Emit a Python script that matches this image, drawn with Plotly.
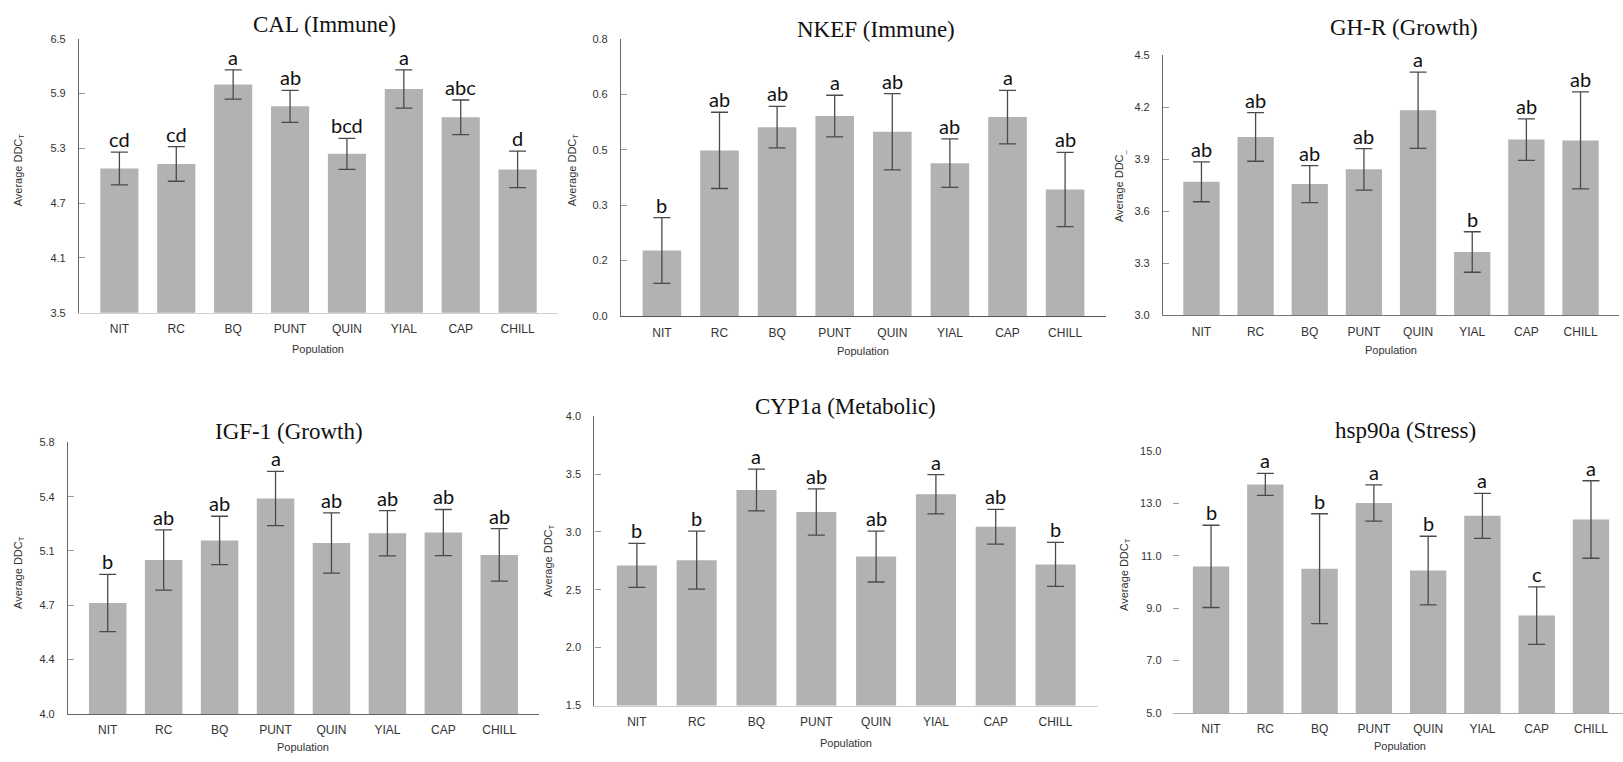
import plotly.graph_objects as go

W, H = 1623, 762

populations = ["NIT", "RC", "BQ", "PUNT", "QUIN", "YIAL", "CAP", "CHILL"]

# ---- data ----
cal_mean = [5.08, 5.13, 6.00, 5.76, 5.24, 5.95, 5.64, 5.07]
cal_err = [0.18, 0.19, 0.16, 0.175, 0.17, 0.21, 0.19, 0.20]
cal_letters = ["cd", "cd", "a", "ab", "bcd", "a", "abc", "d"]

nkef_mean = [0.189, 0.478, 0.545, 0.577, 0.532, 0.441, 0.574, 0.365]
nkef_err = [0.095, 0.11, 0.06, 0.06, 0.11, 0.07, 0.077, 0.107]
nkef_letters = ["b", "ab", "ab", "a", "ab", "ab", "a", "ab"]

ghr_mean = [3.769, 4.028, 3.756, 3.841, 4.182, 3.364, 4.013, 4.008]
ghr_err = [0.115, 0.14, 0.107, 0.12, 0.22, 0.117, 0.12, 0.28]
ghr_letters = ["ab", "ab", "ab", "ab", "a", "b", "ab", "ab"]

igf_mean = [4.735, 5.02, 5.15, 5.428, 5.133, 5.198, 5.202, 5.054]
igf_err = [0.19, 0.2, 0.16, 0.18, 0.2, 0.15, 0.153, 0.174]
igf_letters = ["b", "ab", "ab", "a", "ab", "ab", "ab", "ab"]

cyp_mean = [2.71, 2.756, 3.362, 3.172, 2.787, 3.325, 3.045, 2.719]
cyp_err = [0.19, 0.25, 0.18, 0.2, 0.22, 0.17, 0.15, 0.19]
cyp_letters = ["b", "b", "a", "ab", "ab", "a", "ab", "b"]

hsp_mean = [10.6, 13.73, 10.51, 13.02, 10.44, 12.53, 8.72, 12.39]
hsp_err = [1.57, 0.42, 2.1, 0.69, 1.31, 0.86, 1.1, 1.48]
hsp_letters = ["b", "a", "b", "a", "b", "a", "c", "a"]

titles = ["CAL (Immune)", "NKEF (Immune)", "GH-R (Growth)",
          "IGF-1 (Growth)", "CYP1a (Metabolic)", "hsp90a (Stress)"]
ytitles = ["Average DDC<sub>T</sub>", "Average DDC<sub>T</sub>", "Average DDC<sub>_</sub>",
           "Average DDC<sub>T</sub>", "Average DDC<sub>T</sub>", "Average DDC<sub>T</sub>"]
xtitle = "Population"

yticks_vals = [
    [3.5, 4.1, 4.7, 5.3, 5.9, 6.5],
    [0.0, 0.16, 0.32, 0.48, 0.64, 0.8],
    [3.0, 3.3, 3.6, 3.9, 4.2, 4.5],
    [4.0, 4.36, 4.72, 5.08, 5.44, 5.8],
    [1.5, 2.0, 2.5, 3.0, 3.5, 4.0],
    [5.0, 7.0, 9.0, 11.0, 13.0, 15.0],
]
yticks_text = [
    ["3.5", "4.1", "4.7", "5.3", "5.9", "6.5"],
    ["0.0", "0.2", "0.3", "0.5", "0.6", "0.8"],
    ["3.0", "3.3", "3.6", "3.9", "4.2", "4.5"],
    ["4.0", "4.4", "4.7", "5.1", "5.4", "5.8"],
    ["1.5", "2.0", "2.5", "3.0", "3.5", "4.0"],
    ["5.0", "7.0", "9.0", "11.0", "13.0", "15.0"],
]

panels_data = [
    (cal_mean, cal_err, cal_letters),
    (nkef_mean, nkef_err, nkef_letters),
    (ghr_mean, ghr_err, ghr_letters),
    (igf_mean, igf_err, igf_letters),
    (cyp_mean, cyp_err, cyp_letters),
    (hsp_mean, hsp_err, hsp_letters),
]

# ---- layout geometry (pixels) ----
# (x_left, x_right, y_top, y_bottom, xrange_max)
geom = [
    (79, 558, 33.3, 311.7, 7.71),
    (621, 1106, 33.3, 315, 7.71),
    (1163, 1619, 50, 314, 7.71),
    (68, 539, 443.3, 719.3, 7.71),
    (594.4, 1098, 416.7, 710.7, 7.71),
    (1172.5, 1623, 452.3, 718.3, 7.59),
]
title_pos = [(324, 19), (876, 24), (1404, 22), (289, 432), (845, 407), (1405, 431)]
ytitle_pos = [(19, 167), (573, 167), (1120, 183), (19, 576), (549, 564), (1125, 578)]
pop_pos = [(318, 348), (863, 351), (1391, 349), (303, 753), (846, 749), (1400, 752)]
xline_col = ["#d0d0d0", "#555555", "#777777", "#666666", "#cccccc", "#aaaaaa"]
yline_show = [True, True, True, True, True, False]

fig = go.Figure()
annotations = []
layout_axes = {}

def px(x):
    return x / W

def py(y):
    return 1 - y / H

for i, ((mean, err, letters), g) in enumerate(zip(panels_data, geom)):
    k = "" if i == 0 else str(i + 1)
    xl, xr, yt, yb, xmax = g
    fig.add_trace(go.Bar(
        x=list(range(len(populations))), y=mean,
        marker=dict(color="#b2b2b2", line=dict(width=0)),
        width=0.67,
        error_y=dict(type="data", array=err, visible=True,
                     color="#4a4a4a", thickness=1.3, width=8.5),
        xaxis="x" + k, yaxis="y" + k, showlegend=False,
    ))
    yv = yticks_vals[i]
    layout_axes["xaxis" + k] = dict(
        domain=[px(xl), px(xr)], range=[-0.71, xmax], anchor="y" + k,
        tickvals=list(range(len(populations))), ticktext=populations,
        showline=True, linecolor=xline_col[i], linewidth=1.2,
        showgrid=False, zeroline=False, ticks="",
        tickfont=dict(family="Liberation Sans, Arial", size=12, color="#333333"),
        ticklabelstandoff=5, fixedrange=True,
    )
    layout_axes["yaxis" + k] = dict(
        domain=[py(yb), py(yt)], range=[yv[0], yv[-1]], anchor="x" + k,
        tickvals=yv, ticktext=yticks_text[i],
        showline=yline_show[i], linecolor="#666666", linewidth=1.2,
        showgrid=False, zeroline=False,
        ticks="inside", ticklen=6, tickcolor="#999999", tickwidth=1,
        tickfont=dict(family="Liberation Sans, Arial", size=11, color="#333333"),
        ticklabelstandoff=10, fixedrange=True,
    )
    # significance letters
    for j, (m, e, lt) in enumerate(zip(mean, err, letters)):
        annotations.append(dict(
            x=j, y=m + e, xref="x" + k, yref="y" + k,
            text=lt, showarrow=False, yanchor="bottom", xanchor="center",
            yshift=-1,
            font=dict(family="Lato, Open Sans, sans-serif", size=20, color="#111111"),
        ))
    tx, ty = title_pos[i]
    annotations.append(dict(
        x=px(tx), y=py(ty), xref="paper", yref="paper", text=titles[i],
        showarrow=False, xanchor="center", yanchor="middle",
        font=dict(family="Liberation Serif, Times New Roman, serif", size=23, color="#111111"),
    ))
    ax_, ay_ = ytitle_pos[i]
    annotations.append(dict(
        x=px(ax_), y=py(ay_), xref="paper", yref="paper", text=ytitles[i],
        showarrow=False, xanchor="center", yanchor="middle", textangle=-90,
        font=dict(family="Liberation Sans, Arial", size=11, color="#333333"),
    ))
    pxx, pyy = pop_pos[i]
    annotations.append(dict(
        x=px(pxx), y=py(pyy), xref="paper", yref="paper", text=xtitle,
        showarrow=False, xanchor="center", yanchor="middle",
        font=dict(family="Liberation Sans, Arial", size=11, color="#333333"),
    ))

fig.update_layout(
    width=W, height=H,
    margin=dict(l=0, r=0, t=0, b=0),
    paper_bgcolor="white", plot_bgcolor="white",
    annotations=annotations,
    bargap=0.33,
    **layout_axes,
)

fig.write_html("out.html", config={"displayModeBar": False})
